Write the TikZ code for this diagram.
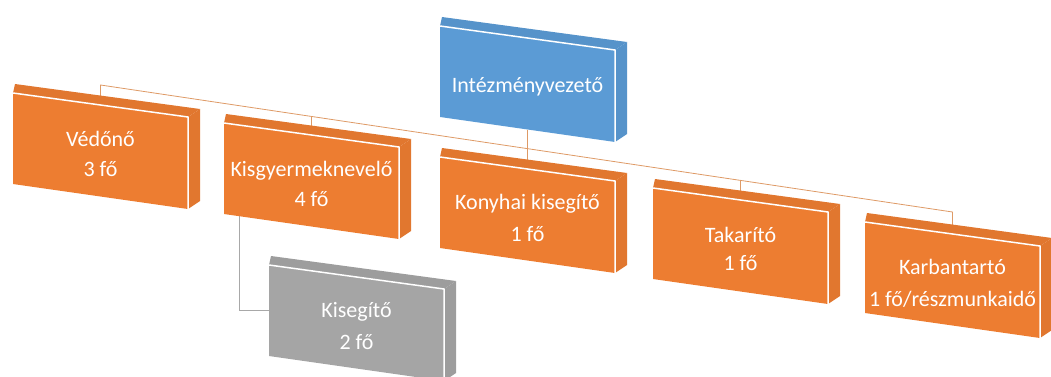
\documentclass[tikz,border=0pt]{standalone}
\usepackage{fontspec}
\setmainfont{Carlito}
\usetikzlibrary{calc}
\pgfdeclarelayer{bg}
\pgfsetlayers{bg,main}

\definecolor{boxorange}{HTML}{ED7D31}
\definecolor{boxblue}{HTML}{5B9BD5}
\definecolor{boxgray}{HTML}{A5A5A5}
\definecolor{linkorange}{HTML}{DE9A66}
\definecolor{linkgray}{HTML}{A8A8A8}

% one 3d block: name, front top-left corner, colour, text
\newcommand{\orgblock}[4]{
  \coordinate (#1-nw) at (#2);
  \coordinate (#1-ne) at ($(#1-nw)+(175,24)$);
  \coordinate (#1-se) at ($(#1-ne)+(0,92)$);
  \coordinate (#1-sw) at ($(#1-nw)+(0,91)$);
  \fill[#3!95!black] (#1-nw) -- (#1-ne) -- ++(12,-8) -- ($(#1-nw)+(2,-9)$) -- cycle;
  \fill[#3!95!black] (#1-ne) -- (#1-se) -- ++(12,-8) -- ($(#1-ne)+(12,-8)$) -- cycle;
  \fill[#3] (#1-nw) -- (#1-ne) -- (#1-se) -- (#1-sw) -- cycle;
  \draw[edge] (#1-nw) -- (#1-ne) -- (#1-se);
  \node[lbl] (#1) at ($(#1-nw)!0.5!(#1-se)+(0,3)$) {#4};
  \coordinate (#1-n) at ($(#1-nw)!0.5!(#1-ne)$);
  \coordinate (#1-s) at ($(#1-sw)!0.5!(#1-se)$);
  \coordinate (#1-w) at ($(#1-nw)!0.5!(#1-sw)$);
}

\begin{document}
\begin{tikzpicture}[
  x=1pt, y=-1pt,
  edge/.style={white,line width=1.5pt,line join=bevel},
  lbl/.style={text=white,font=\fontsize{22}{30}\selectfont,align=center,inner sep=0pt},
  link/.style={linkorange,line width=0.8pt},
  sublink/.style={linkgray,line width=0.8pt}]

  \useasboundingbox (0,0) rectangle (1051,377);

  % the blocks
  \orgblock{vezeto}{440,26}{boxblue}{Intézményvezető}
  \orgblock{vedono}{13,93}{boxorange}{Védőnő\\3 fő}
  \orgblock{nevelo}{224,123}{boxorange}{Kisgyermeknevelő\\4 fő}
  \orgblock{konyha}{440,157}{boxorange}{Konyhai kisegítő\\[2pt]1 fő}
  \orgblock{takarito}{653,188}{boxorange}{Takarító\\[-2pt]1 fő}
  \orgblock{karban}{865,222}{boxorange}{Karbantartó\\[2pt]1 fő/részmunkaidő}
  \orgblock{kisegito}{269,265}{boxgray}{Kisegítő\\[2pt]2 fő}

  % the connectors, behind the blocks
  \begin{pgfonlayer}{bg}
    \coordinate (hook-l) at ($(vedono-n)+(0,-20)$);
    \coordinate (hook-r) at ($(karban-n)+(0,-22)$);
    \draw[link] (vedono-n) -- (hook-l) -- (hook-r) -- (karban-n);
    \draw[link] (vezeto-s) -- (konyha-n);
    \draw[link] (nevelo-n) -- (intersection of hook-l--hook-r and nevelo-n--nevelo-s);
    \draw[link] (takarito-n) -- (intersection of hook-l--hook-r and takarito-n--takarito-s);
    \draw[sublink] ($(nevelo-sw)!0.09!(nevelo-se)$) |- (kisegito-w);
  \end{pgfonlayer}
\end{tikzpicture}
\end{document}
